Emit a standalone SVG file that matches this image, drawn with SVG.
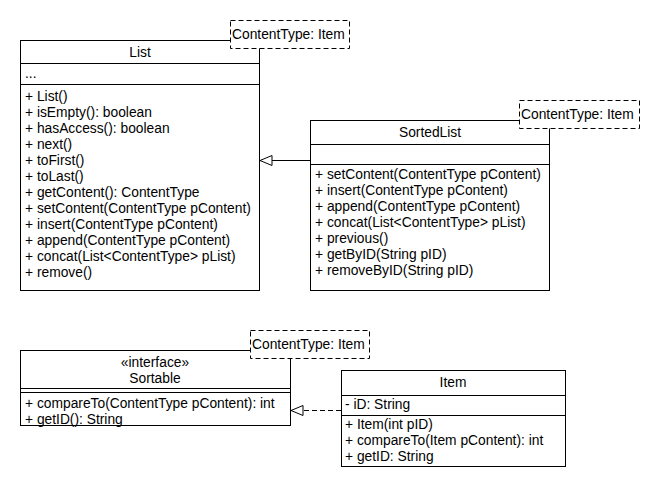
<svg xmlns="http://www.w3.org/2000/svg" width="660" height="490" viewBox="0 0 660 490">
<style>
rect{fill:#fff;stroke:#000;stroke-width:1}
line{stroke:#000;stroke-width:1}
.d{fill:#fff;stroke:#000;stroke-dasharray:5,3}
text{font-family:"Liberation Sans",Arial,sans-serif;font-size:13.8px;fill:#000}
.c{text-anchor:middle}
</style>
<defs>
<marker id="tri" markerWidth="14" markerHeight="12" refX="13" refY="6" orient="auto" markerUnits="userSpaceOnUse">
<path d="M1,1 L13,6 L1,11 Z" fill="#fff" stroke="#000"/>
</marker>
</defs>
<rect width="660" height="490" style="fill:#fff;stroke:none"/>
<g id="connectors">
<line x1="310" y1="160.5" x2="260" y2="160.5" marker-end="url(#tri)"/>
<line x1="341" y1="410.5" x2="291" y2="410.5" style="stroke-dasharray:5,3" marker-end="url(#tri)"/>
</g>
<g id="List">
<rect x="20.5" y="40.5" width="239" height="250"/>
<line x1="20" y1="63.5" x2="260" y2="63.5"/>
<line x1="20" y1="84.5" x2="260" y2="84.5"/>
<text class="c" x="140" y="57">List</text>
<text x="25" y="78">...</text>
<text x="25" y="101">+ List()</text>
<text x="25" y="117">+ isEmpty(): boolean</text>
<text x="25" y="133">+ hasAccess(): boolean</text>
<text x="25" y="149">+ next()</text>
<text x="25" y="165">+ toFirst()</text>
<text x="25" y="181">+ toLast()</text>
<text x="25" y="197">+ getContent(): ContentType</text>
<text x="25" y="213">+ setContent(ContentType pContent)</text>
<text x="25" y="229">+ insert(ContentType pContent)</text>
<text x="25" y="245">+ append(ContentType pContent)</text>
<text x="25" y="261">+ concat(List&lt;ContentType&gt; pList)</text>
<text x="25" y="277">+ remove()</text>
<rect class="d" x="230.5" y="20.5" width="119" height="28"/>
<text x="232" y="39">ContentType: Item</text>
</g>
<g id="SortedList">
<rect x="310.5" y="120.5" width="239" height="170"/>
<line x1="310" y1="144.5" x2="550" y2="144.5"/>
<line x1="310" y1="164.5" x2="550" y2="164.5"/>
<text class="c" x="430" y="137">SortedList</text>
<text x="315" y="179">+ setContent(ContentType pContent)</text>
<text x="315" y="195">+ insert(ContentType pContent)</text>
<text x="315" y="211">+ append(ContentType pContent)</text>
<text x="315" y="227">+ concat(List&lt;ContentType&gt; pList)</text>
<text x="315" y="243">+ previous()</text>
<text x="315" y="259">+ getByID(String pID)</text>
<text x="315" y="275">+ removeByID(String pID)</text>
<rect class="d" x="519.5" y="100.5" width="120" height="28"/>
<text x="521" y="119">ContentType: Item</text>
</g>
<g id="Sortable">
<rect x="20.5" y="350.5" width="270" height="75"/>
<line x1="20" y1="388.5" x2="291" y2="388.5"/>
<line x1="20" y1="392.5" x2="291" y2="392.5"/>
<text class="c" x="155" y="367">«interface»</text>
<text class="c" x="155" y="383">Sortable</text>
<text x="25" y="408">+ compareTo(ContentType pContent): int</text>
<text x="25" y="424">+ getID(): String</text>
<rect class="d" x="250.5" y="330.5" width="119" height="28"/>
<text x="252" y="349">ContentType: Item</text>
</g>
<g id="Item">
<rect x="341.5" y="370.5" width="224" height="96"/>
<line x1="341" y1="395.5" x2="566" y2="395.5"/>
<line x1="341" y1="415.5" x2="566" y2="415.5"/>
<text class="c" x="453" y="387">Item</text>
<text x="345" y="409">- iD: String</text>
<text x="345" y="429">+ Item(int pID)</text>
<text x="345" y="445">+ compareTo(Item pContent): int</text>
<text x="345" y="461">+ getID: String</text>
</g>
</svg>
